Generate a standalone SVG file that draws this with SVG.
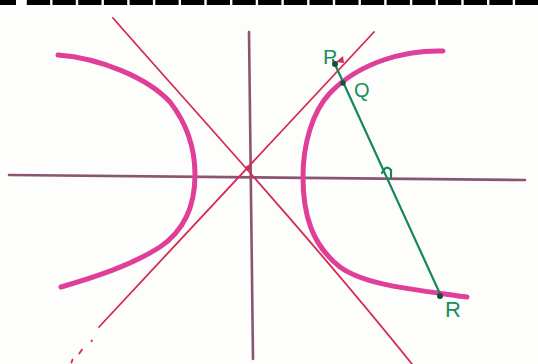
<svg xmlns="http://www.w3.org/2000/svg" width="538" height="364" viewBox="0 0 538 364">
<style>
.axis{fill:none;stroke:#8a5570;stroke-width:2.6;stroke-linecap:round}
.asym{fill:none;stroke:#d42a58;stroke-width:1.8;stroke-linecap:round}
.hyp{fill:none;stroke:#df3f98;stroke-width:5;stroke-linecap:round;stroke-linejoin:round}
.grn{fill:none;stroke:#15885a;stroke-width:2.2;stroke-linecap:round}
.lbl{font-family:"Liberation Sans",Arial,sans-serif;fill:#15905a}
.dash{fill:#000}
</style>
<rect width="538" height="364" fill="#fdfdfc"/>
<g id="border">
<rect class="dash" x="0" y="0" width="16" height="5"/>
<rect class="dash" x="26.8" y="0" width="23.3" height="5"/>
<rect class="dash" x="52.5" y="0" width="23.3" height="5"/>
<rect class="dash" x="78.2" y="0" width="23.3" height="5"/>
<rect class="dash" x="103.9" y="0" width="23.3" height="5"/>
<rect class="dash" x="129.6" y="0" width="23.3" height="5"/>
<rect class="dash" x="155.3" y="0" width="23.3" height="5"/>
<rect class="dash" x="181" y="0" width="23.3" height="5"/>
<rect class="dash" x="206.7" y="0" width="23.3" height="5"/>
<rect class="dash" x="232.4" y="0" width="23.3" height="5"/>
<rect class="dash" x="258.1" y="0" width="23.3" height="5"/>
<rect class="dash" x="283.8" y="0" width="23.3" height="5"/>
<rect class="dash" x="309.5" y="0" width="23.3" height="5"/>
<rect class="dash" x="335.2" y="0" width="23.3" height="5"/>
<rect class="dash" x="360.9" y="0" width="23.3" height="5"/>
<rect class="dash" x="386.6" y="0" width="23.3" height="5"/>
<rect class="dash" x="412.3" y="0" width="23.3" height="5"/>
<rect class="dash" x="438" y="0" width="23.3" height="5"/>
<rect class="dash" x="463.7" y="0" width="23.3" height="5"/>
<rect class="dash" x="489.4" y="0" width="23.3" height="5"/>
<rect class="dash" x="515.1" y="0" width="23" height="5"/>
</g>
<g id="axes">
<path class="axis" d="M9,175 L525,180"/>
<path class="axis" d="M249,32 L253,359"/>
</g>
<g id="asymptotes">
<path class="asym" d="M113,18 C180,95 300,225 412,364"/>
<path class="asym" d="M374,32 L99,327"/>
<path class="asym" d="M92,340.5 L91.5,341.2"/>
<path class="asym" stroke-width="2.6" d="M82,349.5 L79.3,353.5"/>
<path class="asym" d="M72.5,359.5 L71.5,362.5"/>
<path d="M336,62 L343,56 L344,63 Z" fill="#d42a58"/>
<circle cx="248" cy="168" r="2.5" fill="#d42a58"/>
</g>
<g id="left-branch">
<path class="hyp" d="M58,55 C100,58 148,78 170,102 C188,125 195,150 195,175 C195,205 185,230 160,247 C130,266 95,277 61,287"/>
</g>
<g id="right-branch">
<path class="hyp" d="M443,51 C405,50 360,62 330,93 C312,112 303,145 303,177 C303,215 312,245 340,267 C365,285 410,289 467,297"/>
</g>
<g id="connectors">
<path class="grn" d="M333,60 L441,296"/>
<path class="grn" d="M382,173 Q386,164 391,170 L391,178"/>
</g>
<g id="P">
<circle cx="335" cy="64" r="3" fill="#1f4a38"/>
<text class="lbl" x="323" y="64" font-size="21">P</text>
</g>
<g id="Q">
<circle cx="343" cy="83" r="2.7" fill="#1f4a38"/>
<text class="lbl" x="354" y="97" font-size="20">Q</text>
</g>
<g id="R">
<circle cx="440" cy="296" r="3" fill="#1f4a38"/>
<text class="lbl" x="445" y="317" font-size="22">R</text>
</g>
</svg>
